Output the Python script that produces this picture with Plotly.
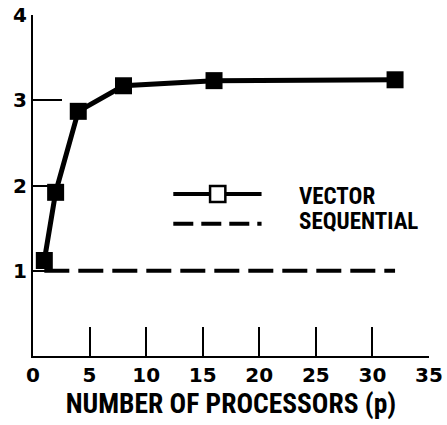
import plotly.graph_objects as go

processors = [1, 2, 4, 8, 16, 32]
vector_speedup = [1.12, 1.92, 2.87, 3.17, 3.23, 3.24]
seq_x = [1, 32]
seq_speedup = [1.0, 1.0]
x_ticks = [0, 5, 10, 15, 20, 25, 30, 35]
y_ticks = [1, 2, 3, 4]
legend_labels = ["VECTOR", "SEQUENTIAL"]

FONT = "Roboto Condensed, DejaVu Sans Condensed, sans-serif"
TICKFONT = "DejaVu Sans, sans-serif"

fig = go.Figure()
fig.add_trace(go.Scatter(x=seq_x, y=seq_speedup, mode="lines",
                         line=dict(color="black", width=4, dash="25px,9px"),
                         showlegend=False, cliponaxis=False))
fig.add_trace(go.Scatter(x=processors, y=vector_speedup, mode="lines+markers",
                         line=dict(color="black", width=5),
                         marker=dict(symbol="square", size=17, color="black"),
                         showlegend=False, cliponaxis=False))

# legend samples
ly1, ly2 = 1.90, 1.55
fig.add_shape(type="line", x0=12.4, x1=20.2, y0=ly1, y1=ly1, xref="x", yref="y",
              line=dict(color="black", width=4))
fig.add_shape(type="rect", x0=15.65, x1=17.0, y0=ly1 - 0.095, y1=ly1 + 0.095,
              xref="x", yref="y", fillcolor="white", line=dict(color="black", width=2.5))
fig.add_shape(type="line", x0=12.4, x1=20.2, y0=ly2, y1=ly2, xref="x", yref="y",
              line=dict(color="black", width=4, dash="20px,8px"))
for lab, yy in zip(legend_labels, [1.87, 1.58]):
    fig.add_annotation(x=23.3, y=yy, xref="x", yref="y", text="<b>%s</b>" % lab,
                       showarrow=False, xanchor="left", yanchor="middle",
                       font=dict(family=FONT, size=23, color="black"))

axis_common = dict(showgrid=False, zeroline=False, showline=True, linecolor="black",
                   linewidth=2, ticks="inside", ticklen=29, tickwidth=2, tickcolor="black",
                   automargin=False,
                   tickfont=dict(family=TICKFONT, size=20, color="black"))

fig.update_xaxes(range=[0, 35], tickvals=x_ticks,
                 ticktext=["<b>%d</b>" % v for v in x_ticks],
                 title=dict(text="<b>NUMBER OF PROCESSORS (p)</b>",
                            font=dict(family=FONT, size=27.5, color="black"),
                            standoff=6),
                 **axis_common)
fig.update_yaxes(range=[0, 4], tickvals=y_ticks,
                 ticktext=["<b>%d</b>" % v for v in y_ticks],
                 **axis_common)

fig.update_layout(width=447, height=425, margin=dict(l=33, r=18, t=15, b=69),
                  plot_bgcolor="white", paper_bgcolor="white", showlegend=False)

fig.write_html("out.html", config={"displayModeBar": False},
               post_script="document.body.style.margin='0';")
